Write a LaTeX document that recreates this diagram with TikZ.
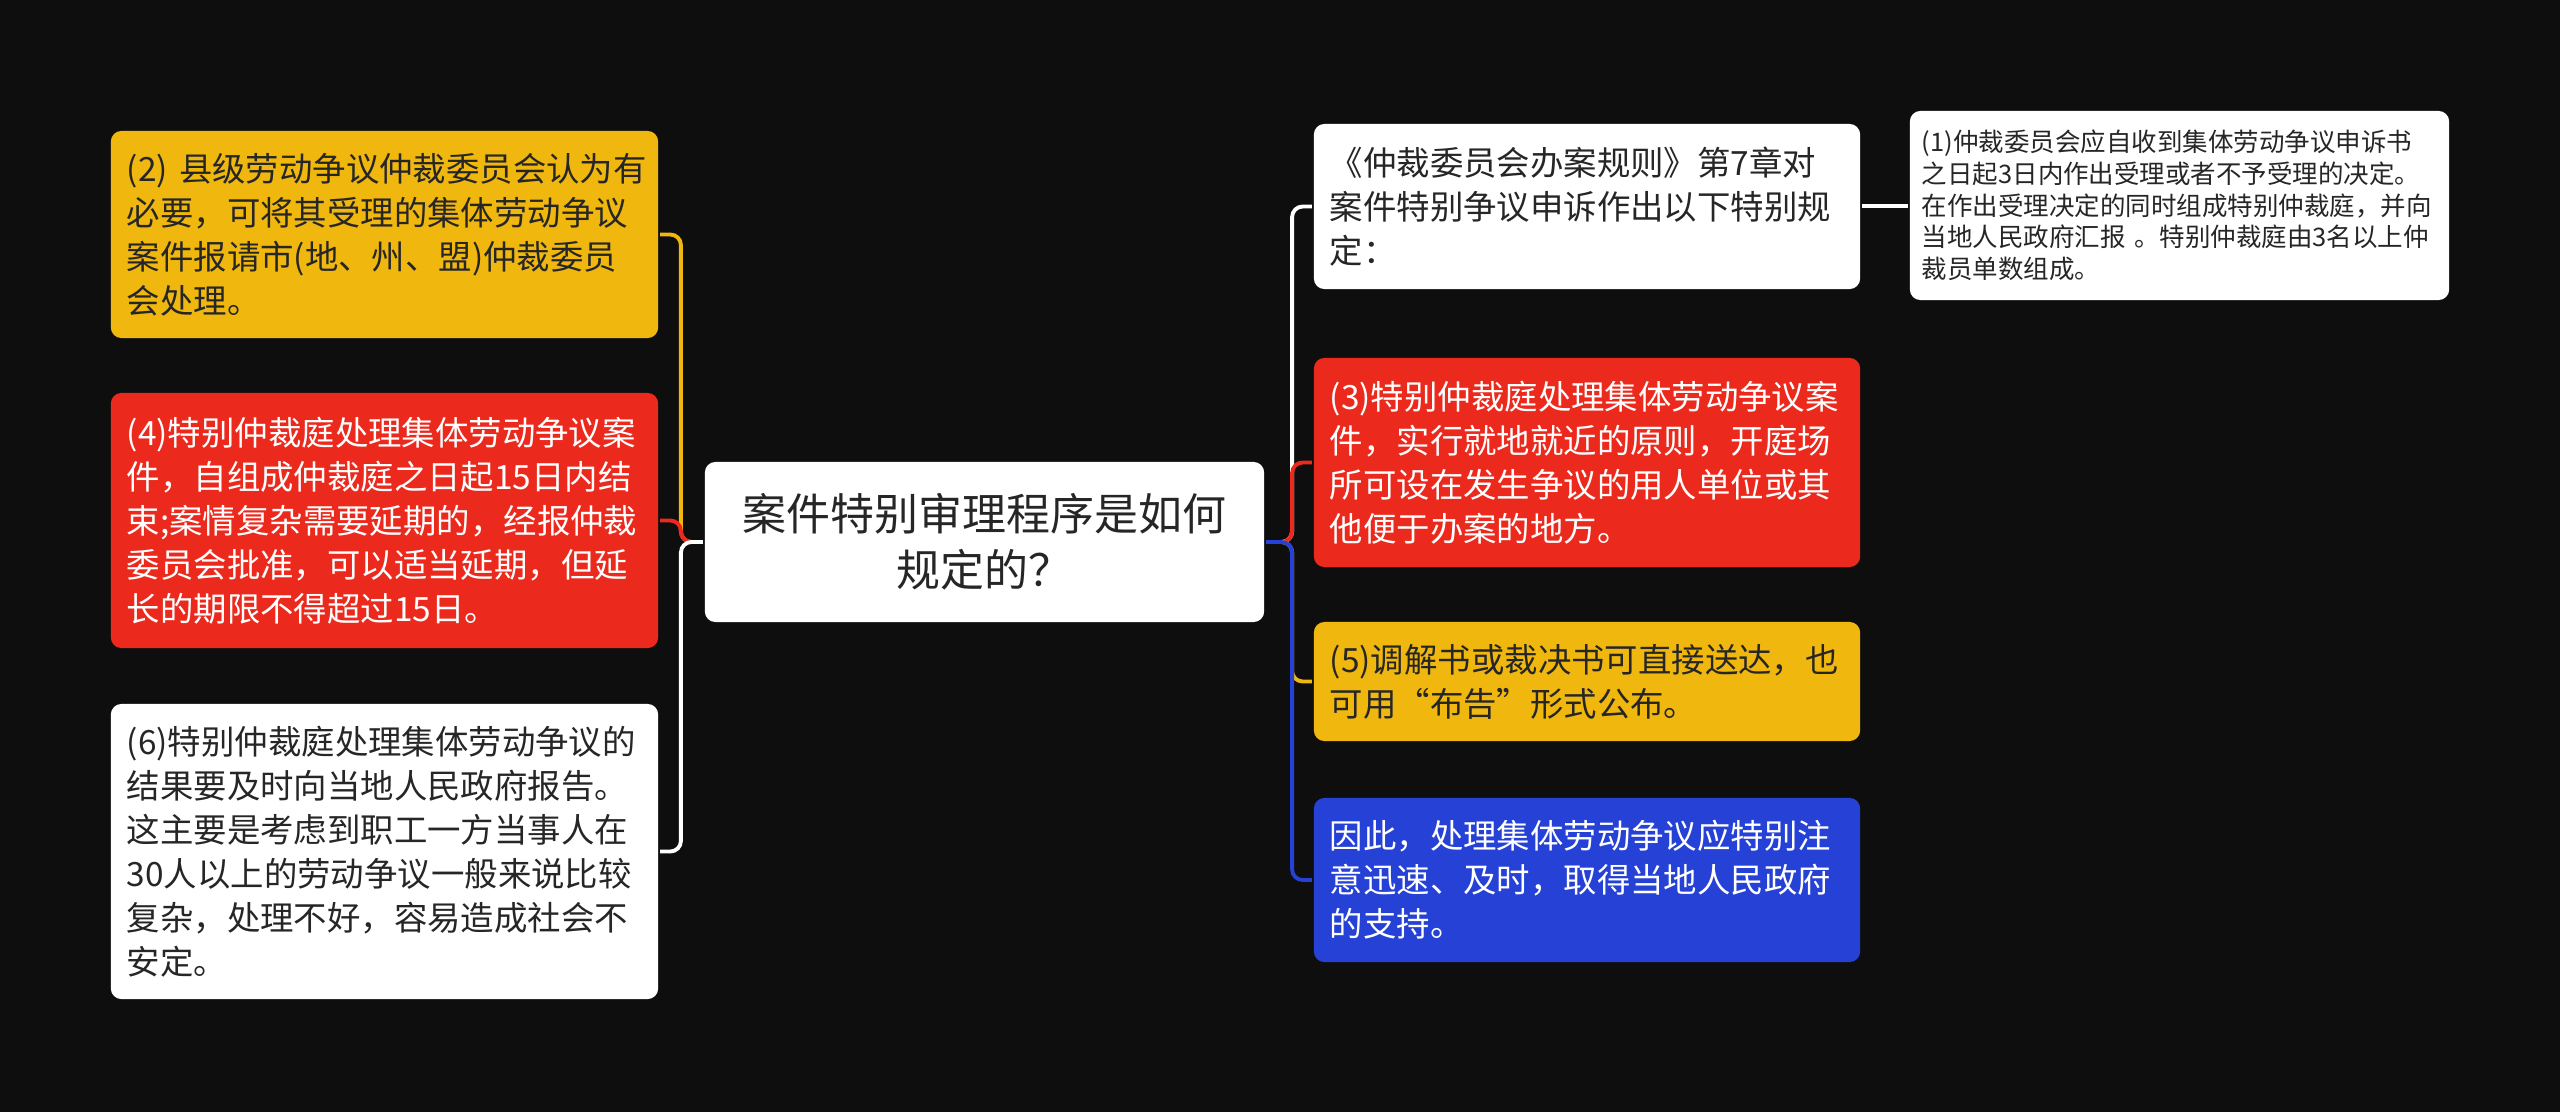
\documentclass[tikz,border=0pt]{standalone}
\usepackage{fontspec}
\setmainfont{Noto Sans CJK SC}
\usetikzlibrary{positioning}

\definecolor{bgdark}{HTML}{0E0E0E}
\definecolor{mapyellow}{HTML}{F0B70F}
\definecolor{mapred}{HTML}{EB2A1D}
\definecolor{mapblue}{HTML}{2541D6}
\definecolor{mapink}{HTML}{262626}

\begin{document}
\begin{tikzpicture}[
        x=0.01cm, y=-0.01cm,
        every node/.style={rounded corners=3pt, inner xsep=0.16cm, inner ysep=0pt, align=left},
        every path/.style={line width=1.1pt},
        topic/.style={fill=white, text=mapink, align=center, minimum width=5.59cm, minimum height=1.6cm, font=\fontsize{12.5}{15.9}\selectfont},
        leaf/.style={text width=5.15cm, font=\fontsize{9.5}{12.5}\selectfont},
        whitebox/.style={leaf, fill=white, text=mapink},
        yellowbox/.style={leaf, fill=mapyellow, text=mapink},
        redbox/.style={leaf, fill=mapred, text=white},
        bluebox/.style={leaf, fill=mapblue, text=white},
        notebox/.style={fill=white, text=mapink, inner xsep=0.12cm, text width=5.15cm, minimum height=1.89cm, font=\fontsize{7.25}{9}\selectfont}
    ]

    \fill[bgdark] (0,0) rectangle (2560,1112);

    % Nodes
    \node (topic) [topic] at (984.5,542) {案件特别审理程序是如何\\规定的？};

    \node (left1) [yellowbox, minimum height=2.07cm] at (384.5,234.5) {(2)~县级劳动争议仲裁委员会认为有\\
        必要，可将其受理的集体劳动争议\\
        案件报请市(地、州、盟)仲裁委员\\
        会处理。};

    \node (left2) [redbox, minimum height=2.55cm] at (384.5,520.5) {(4)特别仲裁庭处理集体劳动争议案\\
        件，自组成仲裁庭之日起15日内结\\
        束;案情复杂需要延期的，经报仲裁\\
        委员会批准，可以适当延期，但延\\
        长的期限不得超过15日。};

    \node (left3) [whitebox, minimum height=2.95cm] at (384.5,851.5) {(6)特别仲裁庭处理集体劳动争议的\\
        结果要及时向当地人民政府报告。\\
        这主要是考虑到职工一方当事人在\\
        30人以上的劳动争议一般来说比较\\
        复杂，处理不好，容易造成社会不\\
        安定。};

    \node (right1) [whitebox, text width=5.14cm, minimum height=1.65cm] at (1587,206.5) {《仲裁委员会办案规则》第7章对\\
        案件特别争议申诉作出以下特别规\\
        定：};

    \node (note) [notebox] at (2179.5,205.5) {(1)仲裁委员会应自收到集体劳动争议申诉书\\
        之日起3日内作出受理或者不予受理的决定。\\
        在作出受理决定的同时组成特别仲裁庭，并向\\
        当地人民政府汇报~。特别仲裁庭由3名以上仲\\
        裁员单数组成。};

    \node (right2) [redbox, text width=5.14cm, minimum height=2.09cm] at (1587,462.5) {(3)特别仲裁庭处理集体劳动争议案\\
        件，实行就地就近的原则，开庭场\\
        所可设在发生争议的用人单位或其\\
        他便于办案的地方。};

    \node (right3) [yellowbox, text width=5.14cm, minimum height=1.19cm] at (1587,681.5) {(5)调解书或裁决书可直接送达，也\\
        可用“布告”形式公布。};

    \node (right4) [bluebox, text width=5.14cm, minimum height=1.64cm] at (1587,880) {因此，处理集体劳动争议应特别注\\
        意迅速、及时，取得当地人民政府\\
        的支持。};

    % Edges
    \draw[mapyellow, rounded corners=3pt] (topic.west) -- ++(-22,0) |- (left1.east);
    \draw[mapred, rounded corners=3pt] (topic.west) -- ++(-22,0) |- (left2.east);
    \draw[white, rounded corners=3pt] (topic.west) -- ++(-22,0) |- (left3.east);

    \draw[white, rounded corners=3pt] (topic.east) -- ++(26,0) |- (right1.west);
    \draw[mapred, rounded corners=3pt] (topic.east) -- ++(26,0) |- (right2.west);
    \draw[mapyellow, rounded corners=3pt] (topic.east) -- ++(26,0) |- (right3.west);
    \draw[mapblue, rounded corners=3pt] (topic.east) -- ++(26,0) |- (right4.west);

    \draw[white] (right1) -- (note);

\end{tikzpicture}
\end{document}
